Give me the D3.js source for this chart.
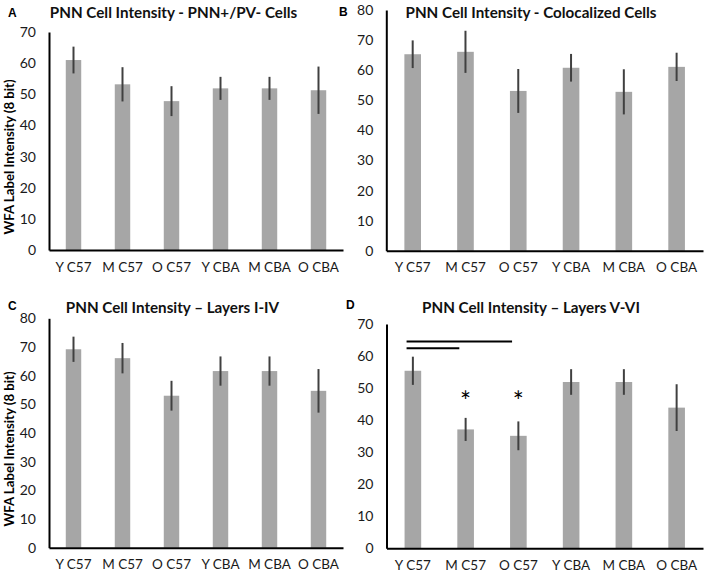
<!DOCTYPE html>
<html><head><meta charset="utf-8">
<script src="https://cdn.jsdelivr.net/npm/d3@7"></script>
<style>html,body{margin:0;padding:0;background:#fff;}svg{display:block;}</style>
</head><body>
<svg id="chart" width="708" height="575"></svg>
<script>
const categories = ["Y C57","M C57","O C57","Y CBA","M CBA","O CBA"];
const panelLetters = ["A","B","C","D"];
const titles = [
  "PNN Cell Intensity - PNN+/PV- Cells",
  "PNN Cell Intensity - Colocalized Cells",
  "PNN Cell Intensity \u2013 Layers I-IV",
  "PNN Cell Intensity \u2013 Layers V-VI"
];
const yLabel = "WFA Label Intensity (8 bit)";
const meansA = [61.0, 53.2, 47.8, 51.9, 51.9, 51.3];
const errA   = [4.3, 5.5, 4.8, 3.7, 3.7, 7.6];
const meansB = [65.3, 66.1, 53.1, 60.8, 52.8, 61.1];
const errB   = [4.6, 7.0, 7.3, 4.6, 7.5, 4.7];
const meansC = [69.2, 66.1, 53.0, 61.6, 61.6, 54.7];
const errC   = [4.4, 5.3, 5.2, 5.1, 5.1, 7.6];
const meansD = [55.4, 37.1, 35.1, 51.9, 51.9, 43.9];
const errD   = [4.4, 3.6, 4.5, 4.0, 4.0, 7.3];
const ticks70 = [0,10,20,30,40,50,60,70];
const ticks80 = [0,10,20,30,40,50,60,70,80];
const sigLinesD = [
  {from:"Y C57", to:"O C57", y:64.5},
  {from:"Y C57", to:"M C57", y:62.4}
];
const starCatsD = ["M C57","O C57"];
const starLevelD = 47;

const panels = [
  {means:meansA, err:errA, ticks:ticks70, left:49, right:343, top:32, bottom:250, letter:[8,17], title:[173.5,18], ylab:true, sig:false},
  {means:meansB, err:errB, ticks:ticks80, left:386.3, right:703, top:10, bottom:250.7, letter:[339,16], title:[531,18], ylab:false, sig:false},
  {means:meansC, err:errC, ticks:ticks80, left:49, right:343, top:318.3, bottom:547.7, letter:[8,310], title:[172.5,313], ylab:true, sig:false},
  {means:meansD, err:errD, ticks:ticks70, left:386.5, right:703, top:324, bottom:548.3, letter:[346,308.5], title:[531,313], ylab:false, sig:true}
];

const svg = d3.select("#chart");
svg.append("rect").attr("width",708).attr("height",575).attr("fill","#fff");
const font = "Lato, 'Open Sans', sans-serif";

panels.forEach((p, i) => {
  const g = svg.append("g");
  const ymax = d3.max(p.ticks);
  const y = d3.scaleLinear().domain([0, ymax]).range([p.bottom, p.top]);
  const x = d3.scaleBand().domain(categories).range([p.left, p.right]).paddingInner(0.685).paddingOuter(0.3425);

  g.selectAll("rect.bar").data(categories).enter().append("rect")
    .attr("x", c => x(c)).attr("width", x.bandwidth())
    .attr("y", (c, k) => y(p.means[k])).attr("height", (c, k) => y(0) - y(p.means[k]))
    .attr("fill", "#a6a6a6");
  g.selectAll("line.err").data(categories).enter().append("line")
    .attr("x1", c => x(c) + x.bandwidth()/2).attr("x2", c => x(c) + x.bandwidth()/2)
    .attr("y1", (c, k) => y(p.means[k] + p.err[k])).attr("y2", (c, k) => y(p.means[k] - p.err[k]))
    .attr("stroke", "#404040").attr("stroke-width", 2);

  const yAxis = d3.axisLeft(y).tickValues(p.ticks).tickSize(0).tickPadding(13);
  const ya = g.append("g").attr("transform", `translate(${p.left},0)`).call(yAxis);
  ya.select(".domain").attr("stroke", "#000").attr("stroke-width", 2);
  ya.selectAll("text").attr("font-family", font).attr("font-size", 14).attr("fill", "#1a1a1a");

  const xAxis = d3.axisBottom(x).tickSize(0).tickPadding(12);
  const xa = g.append("g").attr("transform", `translate(0,${p.bottom})`).call(xAxis);
  xa.select(".domain").attr("stroke", "#000").attr("stroke-width", 2);
  xa.selectAll("text").attr("font-family", font).attr("font-size", 13.5).attr("fill", "#1a1a1a");

  g.append("text").attr("x", p.title[0]).attr("y", p.title[1]).attr("text-anchor", "middle")
    .attr("font-family", font).attr("font-weight", "bold").attr("font-size", 15.2).attr("fill", "#111")
    .text(titles[i]);
  g.append("text").attr("x", p.letter[0]).attr("y", p.letter[1])
    .attr("font-family", "'Liberation Sans', Arial, sans-serif").attr("font-weight", "bold").attr("font-size", 12).attr("fill", "#000")
    .text(panelLetters[i]);
  if (p.ylab) {
    const cy = (p.top + p.bottom) / 2 + 16;
    g.append("text").attr("transform", `translate(14,${cy}) rotate(-90)`).attr("text-anchor", "middle")
      .attr("font-family", font).attr("font-weight", "bold").attr("font-size", 13.2).attr("fill", "#000")
      .text(yLabel);
  }
  if (p.sig) {
    g.selectAll("line.sig").data(sigLinesD).enter().append("line")
      .attr("x1", d => x(d.from) + 2).attr("x2", d => x(d.to) + 2)
      .attr("y1", d => y(d.y)).attr("y2", d => y(d.y))
      .attr("stroke", "#000").attr("stroke-width", 2);
    g.selectAll("text.star").data(starCatsD).enter().append("text")
      .attr("x", c => x(c) + x.bandwidth()/2).attr("y", y(starLevelD) + 13)
      .attr("text-anchor", "middle").attr("font-family", font).attr("font-size", 26).attr("fill", "#000")
      .text("*");
  }
});
</script>
</body></html>
